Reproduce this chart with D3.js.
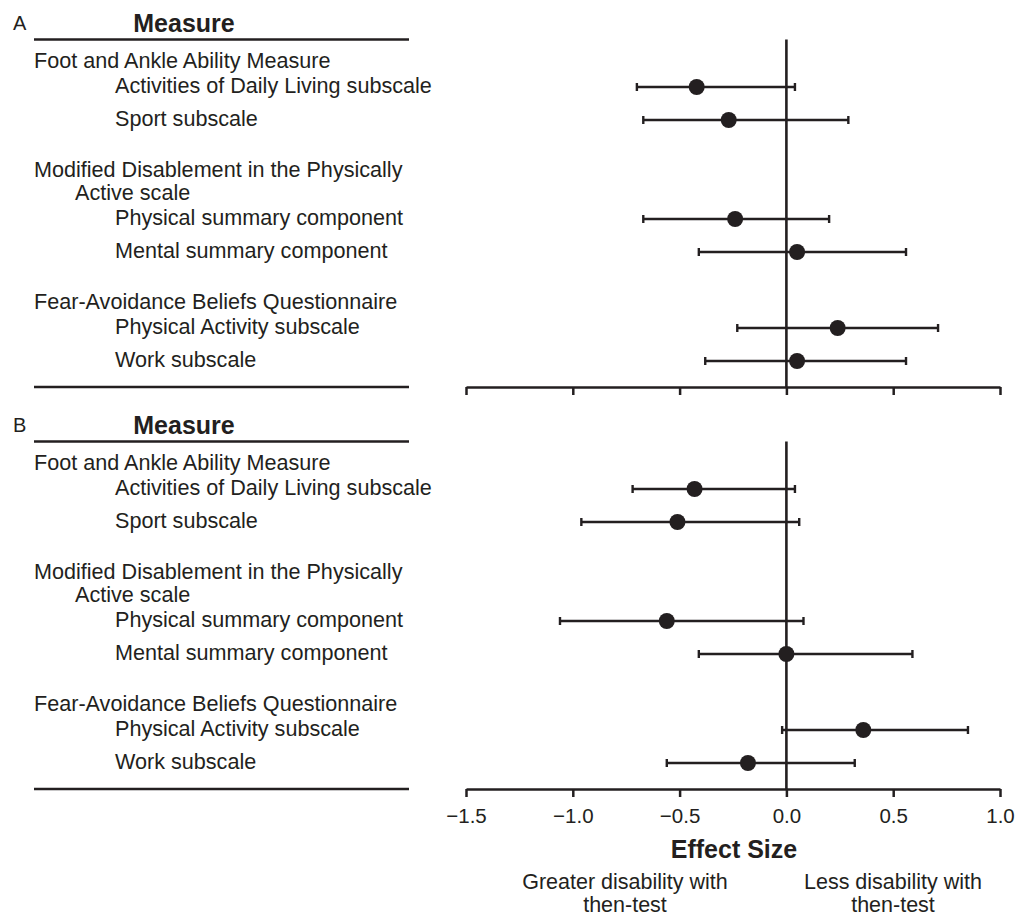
<!DOCTYPE html>
<html>
<head>
<meta charset="utf-8">
<script src="https://cdn.jsdelivr.net/npm/d3@7"></script>
<style>
  body { margin: 0; background: #fff; }
  svg text { font-family: 'Liberation Sans', Arial, Helvetica, sans-serif; fill: #231f20; }
</style>
</head>
<body>
<div id="chart"></div>
<script>
// measure names, split into the lines they are printed on
const groupHeaders = [
  ['Foot and Ankle Ability Measure'],
  ['Modified Disablement in the Physically', 'Active scale'],
  ['Fear-Avoidance Beliefs Questionnaire'],
]
const subscales = [
  'Activities of Daily Living subscale',
  'Sport subscale',
  'Physical summary component',
  'Mental summary component',
  'Physical Activity subscale',
  'Work subscale',
]
const subscaleGroup = [0, 0, 1, 1, 2, 2]

// panel A
const effectA = [-0.42, -0.27, -0.24, 0.05, 0.24, 0.05]
const lowerA = [-0.70, -0.67, -0.67, -0.41, -0.23, -0.38]
const upperA = [0.04, 0.29, 0.20, 0.56, 0.71, 0.56]

// panel B
const effectB = [-0.43, -0.51, -0.56, 0.0, 0.36, -0.18]
const lowerB = [-0.72, -0.96, -1.06, -0.41, -0.02, -0.56]
const upperB = [0.04, 0.06, 0.08, 0.59, 0.85, 0.32]

const tickValues = [-1.5, -1.0, -0.5, 0.0, 0.5, 1.0]
const panelLabels = ['A', 'B']

const draw = () => {
  const dimensions = {
    width: 1016,
    height: 916,
    panelOffset: 402,
    ruleLeft: 34,
    ruleRight: 409,
    topRule: 39.5,
    firstHeader: 68,
    bottomRule: 387,
  }
  const ink = '#231f20'

  const svg = d3
    .select('#chart')
    .append('svg')
    .attr('width', dimensions.width)
    .attr('height', dimensions.height)

  // x scale shared by both panels
  const xScale = d3.scaleLinear().domain([-1.5, 1.0]).range([466, 1000])

  // vertical layout in "row units": one data row = 1
  const step = { item: 1, headToItem: 0.576, headToHead: 0.697, itemToHead: 1.727, itemToRule: 0.788 }
  const headerLines = []
  const rowPos = []
  let pos = 0
  groupHeaders.forEach((lines, g) => {
    lines.forEach((line, li) => {
      if (li > 0) pos += step.headToHead
      headerLines.push({ text: line, pos, indent: li > 0 })
    })
    let first = true
    subscales.forEach((s, i) => {
      if (subscaleGroup[i] !== g) return
      pos += first ? step.headToItem : step.item
      first = false
      rowPos[i] = pos
    })
    if (g < groupHeaders.length - 1) pos += step.itemToHead
  })
  pos += step.itemToRule

  const yScale = d3
    .scaleLinear()
    .domain([0, pos])
    .range([dimensions.firstHeader, dimensions.bottomRule])

  const panels = [
    { effect: effectA, lower: lowerA, upper: upperA },
    { effect: effectB, lower: lowerB, upper: upperB },
  ]

  panels.forEach((p, k) => {
    const ctr = svg
      .append('g')
      .attr('transform', `translate(0, ${k * dimensions.panelOffset})`)

    // panel letter and column title
    ctr.append('text').attr('x', 13).attr('y', 30).style('font-size', '20px').text(panelLabels[k])
    ctr
      .append('text')
      .attr('x', 184)
      .attr('y', 32)
      .attr('text-anchor', 'middle')
      .style('font-size', '25px')
      .style('font-weight', 'bold')
      .text('Measure')

    // rules above and below the list
    ;[dimensions.topRule, dimensions.bottomRule].forEach((y) => {
      ctr
        .append('line')
        .attr('x1', dimensions.ruleLeft)
        .attr('x2', dimensions.ruleRight)
        .attr('y1', y)
        .attr('y2', y)
        .attr('stroke', ink)
        .attr('stroke-width', 2.5)
    })

    // measure headers
    ctr
      .selectAll('.header')
      .data(headerLines)
      .join('text')
      .attr('class', 'header')
      .attr('x', (d) => (d.indent ? 75 : 34))
      .attr('y', (d) => yScale(d.pos))
      .style('font-size', '21.6px')
      .text((d) => d.text)

    // subscale labels
    ctr
      .selectAll('.item')
      .data(subscales)
      .join('text')
      .attr('class', 'item')
      .attr('x', 115)
      .attr('y', (d, i) => yScale(rowPos[i]) + 6)
      .style('font-size', '21.6px')
      .text((d) => d)

    // x axis
    const xAxis = d3
      .axisBottom(xScale)
      .tickValues(tickValues)
      .tickSize(8)
      .tickSizeOuter(0)
      .tickPadding(11)
      .tickFormat(k === 1 ? d3.format('.1f') : () => '')

    const xAxisGroup = ctr
      .append('g')
      .attr('transform', `translate(0, ${dimensions.bottomRule})`)
      .call(xAxis)
    xAxisGroup.select('.domain').attr('stroke', ink).attr('stroke-width', 2.5)
    xAxisGroup.selectAll('.tick line').attr('stroke', ink).attr('stroke-width', 2.5)
    xAxisGroup
      .selectAll('.tick text')
      .attr('fill', ink)
      .style('font-size', '20.5px')
      .style('font-family', "'Liberation Sans', Arial, sans-serif")

    // zero reference line
    ctr
      .append('line')
      .attr('x1', xScale(0))
      .attr('x2', xScale(0))
      .attr('y1', dimensions.topRule)
      .attr('y2', dimensions.bottomRule)
      .attr('stroke', ink)
      .attr('stroke-width', 2.6)

    // confidence intervals
    const idx = d3.range(subscales.length)
    ctr
      .selectAll('.ci')
      .data(idx)
      .join('line')
      .attr('class', 'ci')
      .attr('x1', (i) => xScale(p.lower[i]))
      .attr('x2', (i) => xScale(p.upper[i]))
      .attr('y1', (i) => yScale(rowPos[i]))
      .attr('y2', (i) => yScale(rowPos[i]))
      .attr('stroke', ink)
      .attr('stroke-width', 2.6)

    const caps = idx.flatMap((i) => [
      { v: p.lower[i], i },
      { v: p.upper[i], i },
    ])
    ctr
      .selectAll('.cap')
      .data(caps)
      .join('line')
      .attr('class', 'cap')
      .attr('x1', (d) => xScale(d.v))
      .attr('x2', (d) => xScale(d.v))
      .attr('y1', (d) => yScale(rowPos[d.i]) - 4)
      .attr('y2', (d) => yScale(rowPos[d.i]) + 4)
      .attr('stroke', ink)
      .attr('stroke-width', 2.4)

    // point estimates
    ctr
      .selectAll('circle')
      .data(idx)
      .join('circle')
      .attr('cx', (i) => xScale(p.effect[i]))
      .attr('cy', (i) => yScale(rowPos[i]))
      .attr('r', 8)
      .attr('fill', ink)
  })

  // axis title and direction notes
  svg
    .append('text')
    .attr('x', 734)
    .attr('y', 858)
    .attr('text-anchor', 'middle')
    .style('font-size', '25px')
    .style('font-weight', 'bold')
    .text('Effect Size')

  const notes = [
    { x: 625, lines: ['Greater disability with', 'then-test'] },
    { x: 893, lines: ['Less disability with', 'then-test'] },
  ]
  notes.forEach((n) => {
    n.lines.forEach((line, li) => {
      svg
        .append('text')
        .attr('x', n.x)
        .attr('y', 889 + li * 23)
        .attr('text-anchor', 'middle')
        .style('font-size', '21.5px')
        .text(line)
    })
  })
}

draw()
</script>
</body>
</html>
